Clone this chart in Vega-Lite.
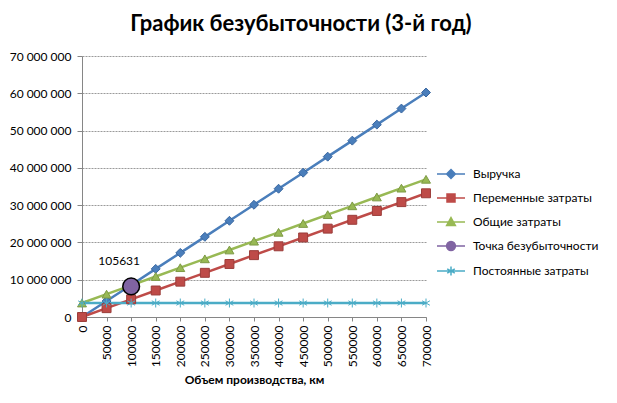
{
  "$schema": "https://vega.github.io/schema/vega-lite/v6.json",
  "width": 344,
  "height": 261,
  "autosize": {"type": "none"},
  "padding": {"left": 82, "top": 56, "right": 191, "bottom": 86},
  "background": "white",
  "config": {
    "locale": {"number": {"decimal": ",", "thousands": " ", "grouping": [3], "currency": ["", ""]}},
    "font": "Lato",
    "view": {"stroke": null}
  },
  "title": {"text": "График безубыточности (3-й год)", "fontSize": 22, "fontWeight": "bold", "color": "black", "anchor": "middle", "dx": 47, "offset": 14, "font": "Lato"},
  "data": {"values": [
    {"series": "Выручка", "x": 0, "y": 0},
    {"series": "Выручка", "x": 50000, "y": 4300000},
    {"series": "Выручка", "x": 100000, "y": 8600000},
    {"series": "Выручка", "x": 150000, "y": 12900000},
    {"series": "Выручка", "x": 200000, "y": 17200000},
    {"series": "Выручка", "x": 250000, "y": 21500000},
    {"series": "Выручка", "x": 300000, "y": 25800000},
    {"series": "Выручка", "x": 350000, "y": 30100000},
    {"series": "Выручка", "x": 400000, "y": 34400000},
    {"series": "Выручка", "x": 450000, "y": 38700000},
    {"series": "Выручка", "x": 500000, "y": 43000000},
    {"series": "Выручка", "x": 550000, "y": 47300000},
    {"series": "Выручка", "x": 600000, "y": 51600000},
    {"series": "Выручка", "x": 650000, "y": 55900000},
    {"series": "Выручка", "x": 700000, "y": 60200000},
    {"series": "Переменные затраты", "x": 0, "y": 0},
    {"series": "Переменные затраты", "x": 50000, "y": 2370000},
    {"series": "Переменные затраты", "x": 100000, "y": 4740000},
    {"series": "Переменные затраты", "x": 150000, "y": 7110000},
    {"series": "Переменные затраты", "x": 200000, "y": 9480000},
    {"series": "Переменные затраты", "x": 250000, "y": 11850000},
    {"series": "Переменные затраты", "x": 300000, "y": 14220000},
    {"series": "Переменные затраты", "x": 350000, "y": 16590000},
    {"series": "Переменные затраты", "x": 400000, "y": 18960000},
    {"series": "Переменные затраты", "x": 450000, "y": 21330000},
    {"series": "Переменные затраты", "x": 500000, "y": 23700000},
    {"series": "Переменные затраты", "x": 550000, "y": 26070000},
    {"series": "Переменные затраты", "x": 600000, "y": 28440000},
    {"series": "Переменные затраты", "x": 650000, "y": 30810000},
    {"series": "Переменные затраты", "x": 700000, "y": 33180000},
    {"series": "Общие затраты", "x": 0, "y": 3750000},
    {"series": "Общие затраты", "x": 50000, "y": 6120000},
    {"series": "Общие затраты", "x": 100000, "y": 8490000},
    {"series": "Общие затраты", "x": 150000, "y": 10860000},
    {"series": "Общие затраты", "x": 200000, "y": 13230000},
    {"series": "Общие затраты", "x": 250000, "y": 15600000},
    {"series": "Общие затраты", "x": 300000, "y": 17970000},
    {"series": "Общие затраты", "x": 350000, "y": 20340000},
    {"series": "Общие затраты", "x": 400000, "y": 22710000},
    {"series": "Общие затраты", "x": 450000, "y": 25080000},
    {"series": "Общие затраты", "x": 500000, "y": 27450000},
    {"series": "Общие затраты", "x": 550000, "y": 29820000},
    {"series": "Общие затраты", "x": 600000, "y": 32190000},
    {"series": "Общие затраты", "x": 650000, "y": 34560000},
    {"series": "Общие затраты", "x": 700000, "y": 36930000},
    {"series": "Точка безубыточности", "x": 100000, "y": 8200000, "label": "105631"},
    {"series": "Постоянные затраты", "x": 0, "y": 3750000},
    {"series": "Постоянные затраты", "x": 50000, "y": 3750000},
    {"series": "Постоянные затраты", "x": 100000, "y": 3750000},
    {"series": "Постоянные затраты", "x": 150000, "y": 3750000},
    {"series": "Постоянные затраты", "x": 200000, "y": 3750000},
    {"series": "Постоянные затраты", "x": 250000, "y": 3750000},
    {"series": "Постоянные затраты", "x": 300000, "y": 3750000},
    {"series": "Постоянные затраты", "x": 350000, "y": 3750000},
    {"series": "Постоянные затраты", "x": 400000, "y": 3750000},
    {"series": "Постоянные затраты", "x": 450000, "y": 3750000},
    {"series": "Постоянные затраты", "x": 500000, "y": 3750000},
    {"series": "Постоянные затраты", "x": 550000, "y": 3750000},
    {"series": "Постоянные затраты", "x": 600000, "y": 3750000},
    {"series": "Постоянные затраты", "x": 650000, "y": 3750000},
    {"series": "Постоянные затраты", "x": 700000, "y": 3750000}
  ]},
  "encoding": {
    "x": {
      "field": "x", "type": "quantitative",
      "scale": {"domain": [0, 700000], "nice": false, "zero": false},
      "axis": {
        "values": [0, 50000, 100000, 150000, 200000, 250000, 300000, 350000, 400000, 450000, 500000, 550000, 600000, 650000, 700000],
        "format": "d", "labelAngle": -90, "grid": false,
        "labelFontSize": 12, "labelColor": "#000000", "labelFont": "Lato",
        "domainColor": "#868686", "tickColor": "#868686", "tickSize": 4, "labelPadding": 4,
        "title": "Объем производства, км", "titleFontSize": 12, "titleFontWeight": "bold", "titleColor": "#000000", "titleFont": "Lato", "titlePadding": 8
      }
    },
    "y": {
      "field": "y", "type": "quantitative",
      "scale": {"domain": [0, 70000000], "nice": false},
      "axis": {
        "values": [0, 10000000, 20000000, 30000000, 40000000, 50000000, 60000000, 70000000],
        "format": ",d", "grid": true, "gridColor": "#9a9a9a", "gridDash": [2, 1], "gridWidth": 1,
        "labelFontSize": 12, "labelColor": "#000000", "labelFont": "Lato",
        "domainColor": "#868686", "tickColor": "#868686", "tickSize": 5, "labelPadding": 6,
        "title": null
      }
    }
  },
  "resolve": {"scale": {"shape": "independent", "stroke": "independent", "fill": "independent"}},
  "layer": [
    {
      "mark": {"type": "point", "filled": true, "opacity": 0, "strokeWidth": 1.5},
      "encoding": {
        "fill": {
          "field": "series", "type": "nominal",
          "scale": {"domain": ["Выручка", "Переменные затраты", "Общие затраты", "Точка безубыточности", "Постоянные затраты"], "range": ["#4A7EBB", "#BE4B48", "#98B954", "#8064A2", "#4BACC6"]},
          "legend": {
            "title": null, "orient": "none", "legendX": 363, "legendY": 112,
            "labelFontSize": 12, "labelColor": "#000000", "labelFont": "Lato",
            "symbolSize": 64, "rowPadding": 9, "labelOffset": 16, "symbolStrokeWidth": 1.5, "symbolOpacity": 1
          }
        },
        "shape": {
          "field": "series", "type": "nominal",
          "scale": {"domain": ["Выручка", "Переменные затраты", "Общие затраты", "Точка безубыточности", "Постоянные затраты"], "range": ["M-3.5,0H3.5M0,-1.1L1.1,0L0,1.1L-1.1,0Z", "M-3.5,0H3.5M-1,-1H1V1H-1Z", "M-3.5,0H3.5M0,-1.1L1.1,0.9H-1.1Z", "M-3.5,0H3.5M1.1,0A1.1,1.1 0 1,1 -1.1,0A1.1,1.1 0 1,1 1.1,0Z", "M-3.5,0H3.5M0,-1.1V1.1M-0.95,-0.55L0.95,0.55M-0.95,0.55L0.95,-0.55"]},
          "legend": {
            "title": null, "orient": "none", "legendX": 363, "legendY": 112,
            "labelFontSize": 12, "labelColor": "#000000", "labelFont": "Lato",
            "symbolSize": 64, "rowPadding": 9, "labelOffset": 16, "symbolStrokeWidth": 1.5, "symbolOpacity": 1
          }
        },
        "stroke": {
          "field": "series", "type": "nominal",
          "scale": {"domain": ["Выручка", "Переменные затраты", "Общие затраты", "Точка безубыточности", "Постоянные затраты"], "range": ["#4A7EBB", "#BE4B48", "#98B954", "#8064A2", "#4BACC6"]},
          "legend": {
            "title": null, "orient": "none", "legendX": 363, "legendY": 112,
            "labelFontSize": 12, "labelColor": "#000000", "labelFont": "Lato",
            "symbolSize": 64, "rowPadding": 9, "labelOffset": 16, "symbolStrokeWidth": 1.5, "symbolOpacity": 1
          }
        }
      }
    },
    {
      "transform": [{"filter": "datum.series != 'Точка безубыточности'"}],
      "mark": {"type": "line", "strokeWidth": 2.5},
      "encoding": {
        "color": {
          "field": "series", "type": "nominal",
          "scale": {"domain": ["Выручка", "Переменные затраты", "Общие затраты", "Точка безубыточности", "Постоянные затраты"], "range": ["#4A7EBB", "#BE4B48", "#98B954", "#8064A2", "#4BACC6"]},
          "legend": null
        }
      }
    },
    {
      "transform": [{"filter": "datum.series != 'Точка безубыточности'"}],
      "mark": {"type": "point", "filled": true, "size": 80, "strokeWidth": 1, "opacity": 1},
      "encoding": {
        "color": {"field": "series", "type": "nominal", "legend": null},
        "shape": {
          "field": "series", "type": "nominal",
          "scale": {"domain": ["Выручка", "Переменные затраты", "Общие затраты", "Точка безубыточности", "Постоянные затраты"], "range": ["diamond", "square", "triangle-up", "circle", "M0,-1V1M-0.87,-0.5L0.87,0.5M-0.87,0.5L0.87,-0.5"]},
          "legend": null
        },
        "stroke": {
          "field": "series", "type": "nominal",
          "scale": {"domain": ["Выручка", "Переменные затраты", "Общие затраты", "Точка безубыточности", "Постоянные затраты"], "range": ["#3A67A0", "#9B3D3A", "#7D9A45", "#000000", "#4BACC6"]},
          "legend": null
        }
      }
    },
    {
      "transform": [{"filter": "datum.series == 'Точка безубыточности'"}],
      "mark": {"type": "point", "filled": true, "shape": "circle", "size": 280, "stroke": "#000000", "strokeWidth": 1.5, "opacity": 1, "fill": "#8064A2"},
      "encoding": {}
    },
    {
      "transform": [{"filter": "datum.series == 'Точка безубыточности'"}],
      "mark": {"type": "text", "dx": -12, "dy": -25, "fontSize": 12, "font": "Lato", "color": "#000000"},
      "encoding": {
        "text": {"field": "label", "type": "nominal"}
      }
    }
  ]
}
